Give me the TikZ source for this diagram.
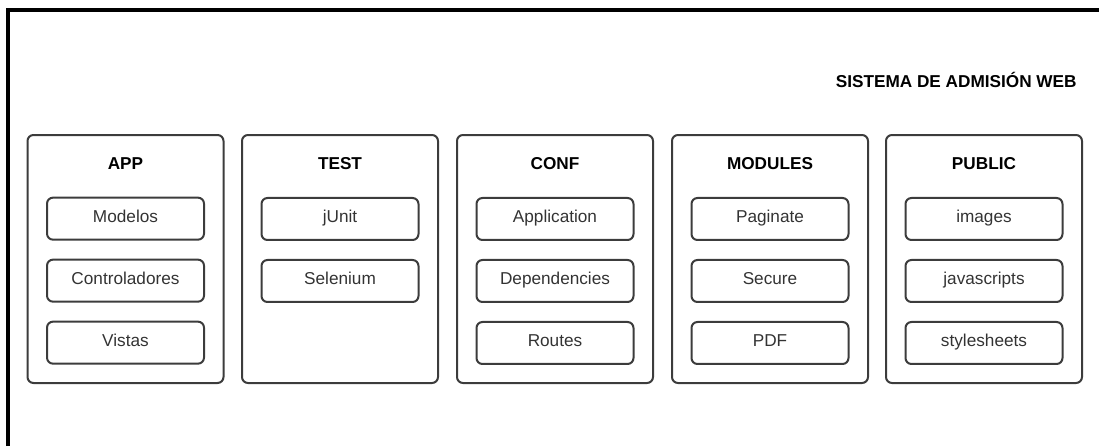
\documentclass[tikz,border=0pt]{standalone}
\usepackage{fontspec}
\setmainfont{Liberation Sans}
\usepackage{xcolor}
\usepackage{tikz}
\usetikzlibrary{positioning}

\definecolor{boxline}{HTML}{3C3C3C}
\definecolor{itemtext}{HTML}{333333}

\begin{document}
\begin{tikzpicture}[
    x=0.5pt, y=-0.5pt,
    node distance=9pt,
    folder/.style={draw=boxline, rounded corners=3pt, line width=1pt,
                   minimum width=98pt, minimum height=124pt, inner sep=0pt},
    title/.style={font=\fontsize{8.6}{10}\selectfont\bfseries, inner sep=0pt},
    item/.style={draw=boxline, rounded corners=3pt, line width=1pt,
                 minimum width=78.5pt, minimum height=21pt, inner sep=0pt,
                 text height=6.3pt, text depth=2.6pt,
                 text=itemtext, font=\fontsize{8.6}{10}\selectfont},
]
\useasboundingbox (0,0) rectangle (1099,446);

% Frame and heading
\draw[line width=2pt] (8,446) -- (8,10) -- (1099,10);
\node[title, anchor=east] (sysname) at (1077,80) {SISTEMA DE ADMISIÓN WEB};

% Folders
\node[folder] (app) at (125.5,259) {};
\node[folder] (test) at (340,259) {};
\node[folder] (conf) at (555,259) {};
\node[folder] (modules) at (770,259) {};
\node[folder] (public) at (984,259) {};

% APP
\node[title, below=11.5pt of app.north] (tapp) {APP};
\node[item, below=13.5pt of tapp] (modelos) {Modelos};
\node[item, below=of modelos] (controladores) {Controladores};
\node[item, below=of controladores] (vistas) {Vistas};

% TEST
\node[title, below=11.5pt of test.north] (ttest) {TEST};
\node[item, below=13.5pt of ttest] (junit) {jUnit};
\node[item, below=of junit] (selenium) {Selenium};

% CONF
\node[title, below=11.5pt of conf.north] (tconf) {CONF};
\node[item, below=13.5pt of tconf] (application) {Application};
\node[item, below=of application] (dependencies) {Dependencies};
\node[item, below=of dependencies] (routes) {Routes};

% MODULES
\node[title, below=11.5pt of modules.north] (tmodules) {MODULES};
\node[item, below=13.5pt of tmodules] (paginate) {Paginate};
\node[item, below=of paginate] (secure) {Secure};
\node[item, below=of secure] (pdf) {PDF};

% PUBLIC
\node[title, below=11.5pt of public.north] (tpublic) {PUBLIC};
\node[item, below=13.5pt of tpublic] (images) {images};
\node[item, below=of images] (javascripts) {javascripts};
\node[item, below=of javascripts] (stylesheets) {stylesheets};

\end{tikzpicture}
\end{document}
